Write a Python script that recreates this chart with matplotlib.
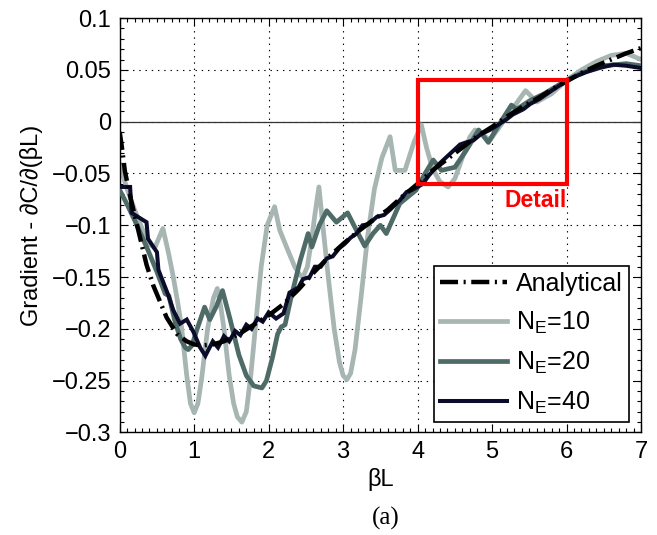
import numpy as np
import matplotlib
matplotlib.use("Agg")
import matplotlib.pyplot as plt
from matplotlib.ticker import MultipleLocator
from matplotlib.patches import Rectangle

plt.rcParams['font.family'] = ['Liberation Sans', 'DejaVu Sans']
plt.rcParams['mathtext.fontset'] = 'custom'
plt.rcParams['mathtext.rm'] = 'Liberation Sans'
plt.rcParams['mathtext.it'] = 'Liberation Sans'
plt.rcParams['lines.scale_dashes'] = False

# ---- data ----
analytical_x = [0.00, 0.03, 0.07, 0.15, 0.25, 0.36, 0.45, 0.52, 0.63, 0.77, 0.90, 1.00,
                1.10, 1.25, 1.40, 1.60, 1.80, 2.00, 2.20, 2.40, 2.60, 2.80, 3.00, 3.20,
                3.40, 3.60, 3.80, 4.00, 4.20, 4.40, 4.60, 4.80, 5.00, 5.20, 5.40, 5.60,
                5.80, 6.00, 6.20, 6.40, 6.60, 6.80, 7.00]
analytical_y = [-0.010, -0.025, -0.048, -0.075, -0.105, -0.138, -0.158, -0.170, -0.189,
                -0.205, -0.212, -0.215, -0.216, -0.215, -0.212, -0.205, -0.196, -0.187,
                -0.176, -0.162, -0.146, -0.131, -0.118, -0.106, -0.095, -0.085, -0.072,
                -0.060, -0.047, -0.036, -0.025, -0.014, -0.005, 0.005, 0.014, 0.022,
                0.031, 0.039, 0.047, 0.054, 0.060, 0.066, 0.071]

ne10_x = [0.00, 0.10, 0.20, 0.30, 0.40, 0.47, 0.58, 0.65, 0.72, 0.78, 0.83, 0.90, 0.95,
          1.00, 1.05, 1.10, 1.18, 1.26, 1.31, 1.36, 1.40, 1.47, 1.53, 1.58, 1.64, 1.70,
          1.76, 1.82, 1.90, 1.98, 2.08, 2.15, 2.24, 2.35, 2.42, 2.46, 2.52, 2.58, 2.62,
          2.675, 2.72, 2.80, 2.88, 2.95, 3.00, 3.05, 3.10, 3.16, 3.24, 3.33, 3.42, 3.52,
          3.63, 3.70, 3.83, 3.95, 4.05, 4.12, 4.20, 4.30, 4.41, 4.50, 4.60, 4.70, 4.77,
          4.87, 4.97, 5.10, 5.25, 5.35, 5.45, 5.60, 5.80, 6.00, 6.20, 6.40, 6.60, 6.80,
          7.00]
ne10_y = [-0.042, -0.065, -0.085, -0.103, -0.118, -0.122, -0.103, -0.125, -0.150, -0.175,
          -0.198, -0.245, -0.272, -0.281, -0.272, -0.248, -0.200, -0.170, -0.161, -0.180,
          -0.200, -0.245, -0.272, -0.285, -0.290, -0.280, -0.245, -0.200, -0.140, -0.100,
          -0.082, -0.105, -0.121, -0.140, -0.148, -0.150, -0.140, -0.112, -0.090, -0.063,
          -0.095, -0.150, -0.200, -0.232, -0.245, -0.249, -0.243, -0.220, -0.170, -0.110,
          -0.065, -0.035, -0.0145, -0.047, -0.047, -0.020, -0.003, -0.025, -0.045, -0.058,
          -0.063, -0.055, -0.035, -0.015, -0.008, -0.012, -0.018, -0.005, 0.010, 0.020,
          0.030, 0.019, 0.027, 0.040, 0.050, 0.058, 0.064, 0.066, 0.060]

ne20_x = [0.00, 0.10, 0.20, 0.38, 0.50, 0.61, 0.66, 0.75, 0.82, 0.88, 0.92, 0.97, 1.04,
          1.14, 1.21, 1.30, 1.38, 1.48, 1.60, 1.70, 1.80, 1.91, 1.97, 2.05, 2.12, 2.17,
          2.22, 2.30, 2.42, 2.53, 2.58, 2.68, 2.78, 2.91, 3.06, 3.18, 3.29, 3.40, 3.50,
          3.58, 3.76, 3.98, 4.10, 4.21, 4.32, 4.50, 4.65, 4.82, 4.95, 5.10, 5.26, 5.33,
          5.50, 5.70, 6.00, 6.20, 6.50, 6.80, 7.00]
ne20_y = [-0.066, -0.080, -0.095, -0.124, -0.145, -0.166, -0.168, -0.195, -0.210, -0.218,
          -0.220, -0.216, -0.200, -0.179, -0.191, -0.178, -0.163, -0.190, -0.225, -0.245,
          -0.255, -0.257, -0.250, -0.228, -0.205, -0.198, -0.196, -0.170, -0.135, -0.108,
          -0.121, -0.100, -0.086, -0.097, -0.088, -0.105, -0.120, -0.108, -0.100, -0.108,
          -0.079, -0.066, -0.050, -0.037, -0.047, -0.044, -0.028, -0.008, -0.020, -0.002,
          0.016, 0.012, 0.020, 0.027, 0.040, 0.047, 0.054, 0.056, 0.054]

ne40_x = [0.00, 0.14, 0.16, 0.27, 0.36, 0.38, 0.50, 0.52, 0.65, 0.72, 0.81, 0.90, 0.99,
          1.08, 1.15, 1.25, 1.32, 1.40, 1.47, 1.55, 1.62, 1.70, 1.77, 1.85, 1.92, 2.00,
          2.10, 2.20, 2.28, 2.40, 2.46, 2.55, 2.62, 2.70, 2.78, 2.86, 2.95, 3.02, 3.10,
          3.18, 3.26, 3.34, 3.45, 3.55, 3.63, 3.70, 3.76, 3.85, 3.92, 4.00, 4.07, 4.15,
          4.21, 4.30, 4.39, 4.48, 4.57, 4.65, 4.75, 4.85, 4.97, 5.06, 5.19, 5.28, 5.42,
          5.51, 5.64, 5.80, 5.95, 6.10, 6.27, 6.45, 6.63, 6.80, 6.98]
ne40_y = [-0.063, -0.063, -0.088, -0.093, -0.097, -0.113, -0.126, -0.143, -0.167, -0.182,
          -0.195, -0.191, -0.203, -0.218, -0.226, -0.212, -0.218, -0.207, -0.212, -0.202,
          -0.206, -0.196, -0.200, -0.190, -0.193, -0.184, -0.190, -0.185, -0.165, -0.160,
          -0.152, -0.150, -0.140, -0.140, -0.132, -0.130, -0.122, -0.118, -0.112, -0.108,
          -0.100, -0.099, -0.092, -0.090, -0.085, -0.080, -0.076, -0.068, -0.066, -0.063,
          -0.060, -0.052, -0.047, -0.040, -0.034, -0.028, -0.022, -0.020, -0.018, -0.012,
          -0.008, -0.004, 0.002, 0.007, 0.012, 0.017, 0.022, 0.030, 0.037, 0.043, 0.048,
          0.052, 0.055, 0.054, 0.052]

labels = ['Analytical', r'N$_\mathregular{E}$=10', r'N$_\mathregular{E}$=20', r'N$_\mathregular{E}$=40']
x_ticks = [0, 1, 2, 3, 4, 5, 6, 7]
y_ticks = [-0.3, -0.25, -0.2, -0.15, -0.1, -0.05, 0, 0.05, 0.1]
y_ticklabels = ['\u22120.3', '\u22120.25', '\u22120.2', '\u22120.15', '\u22120.1', '\u22120.05', '0', '0.05', '0.1']
detail_box = (4.0, -0.06, 2.0, 0.10)   # x0, y0, width, height

c10 = '#a7b5b3'
c20 = '#4e6b68'
c40 = '#0b0c2b'

fig = plt.figure(figsize=(6.57, 5.35), dpi=100)
ax = fig.add_axes([0.1822, 0.1916, 0.7935, 0.7746])

ax.axhline(0, color='#333333', lw=0.9, zorder=1)
ax.plot(ne10_x, ne10_y, color=c10, lw=3.4, label=labels[1], zorder=2,
        solid_joinstyle='round')
ax.plot(ne20_x, ne20_y, color=c20, lw=3.4, label=labels[2], zorder=3,
        solid_joinstyle='round')
ax.plot(ne40_x, ne40_y, color=c40, lw=2.9, label=labels[3], zorder=4,
        solid_joinstyle='miter')
ax.plot(analytical_x, analytical_y, color='black', lw=3.2,
        linestyle=(0, (13, 4, 1.5, 4)), label=labels[0], zorder=5)

ax.add_patch(Rectangle((detail_box[0], detail_box[1]), detail_box[2], detail_box[3],
                       fill=False, edgecolor='#ff0000', lw=3.0, zorder=6))
ax.text(detail_box[0] + 1.58, detail_box[1] - 0.016, 'Detail', color='#ff0000',
        fontsize=16.5, fontweight='bold', ha='center', va='center', zorder=6)

ax.set_xlim(0, 7)
ax.set_ylim(-0.3, 0.1)
ax.set_xticks(x_ticks)
ax.set_xticklabels([str(t) for t in x_ticks])
ax.set_yticks(y_ticks)
ax.set_yticklabels(y_ticklabels)
ax.xaxis.set_minor_locator(MultipleLocator(0.1))
ax.yaxis.set_minor_locator(MultipleLocator(0.01))
ax.tick_params(which='both', direction='in', top=True, right=True, labelsize=17,
               width=0.8, color='black')
ax.tick_params(which='major', length=6, pad=6)
ax.tick_params(which='minor', length=3)
for s in ax.spines.values():
    s.set_linewidth(1.0)

ax.grid(True, which='major', color='black', linestyle=(0, (1, 3.5)), lw=0.8)
ax.set_axisbelow(True)

ax.set_xlabel('\u03b2L', fontsize=17, labelpad=4)
ax.set_ylabel('Gradient - \u2202C/\u2202(\u03b2L)', fontsize=17, labelpad=6)

handles, labs = ax.get_legend_handles_labels()
order = [labs.index(l) for l in labels]
leg = ax.legend([handles[i] for i in order], [labs[i] for i in order],
                loc='lower right', bbox_to_anchor=(0.977, 0.025), fontsize=18,
                frameon=True, fancybox=False, edgecolor='black', framealpha=1,
                handlelength=2.7, handletextpad=0.35, labelspacing=0.55,
                borderpad=0.25, borderaxespad=0)
leg.get_frame().set_linewidth(1.2)

fig.text(0.587, 0.03, '(a)', fontsize=18, family=['Liberation Serif'], ha='center', va='center')

fig.savefig('out.png', dpi=100)
